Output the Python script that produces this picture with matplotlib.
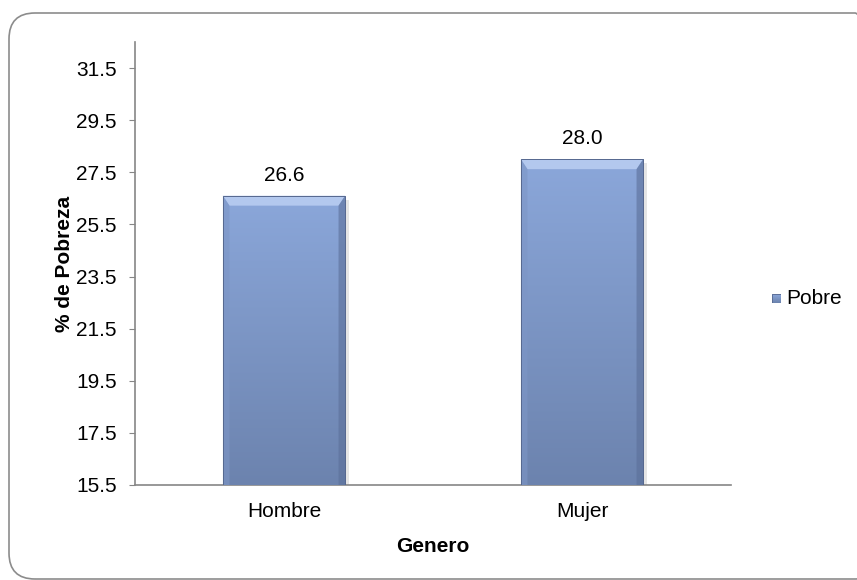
import matplotlib.pyplot as plt
import numpy as np
from matplotlib.patches import FancyBboxPatch, Polygon, Rectangle
from matplotlib.colors import LinearSegmentedColormap

# Datos del grafico
categorias = ["Hombre", "Mujer"]
pobre = [26.6, 28.0]
yticks = [15.5, 17.5, 19.5, 21.5, 23.5, 25.5, 27.5, 29.5, 31.5]

plt.rcParams["font.family"] = ["Liberation Sans", "DejaVu Sans"]
fs = 15

fig = plt.figure(figsize=(8.57, 5.8), dpi=100)

# Marco redondeado alrededor del grafico (en pulgadas)
marco = FancyBboxPatch((0.09, 0.01), 8.72, 5.66,
                       boxstyle="round,pad=0,rounding_size=0.26",
                       transform=fig.dpi_scale_trans, fill=False,
                       edgecolor="#8c8c8c", linewidth=1.2)
fig.patches.append(marco)

ax = fig.add_axes([135 / 857, 95 / 580, 596 / 857, 443 / 580])

x = np.arange(len(categorias))
ancho = 0.41
ymin, ymax = 15.5, 32.5

grad = LinearSegmentedColormap.from_list("azul", ["#6c83ae", "#8ba7da"])

barras = ax.bar(x, [v - ymin for v in pobre], width=ancho, bottom=ymin,
                color="none", edgecolor="none", zorder=3)

for b, v in zip(barras, pobre):
    x0, y0 = b.get_x(), b.get_y()
    w, h = b.get_width(), b.get_height()
    # sombra suave
    ax.add_patch(Rectangle((x0 + 0.008, y0 - 0.15), w + 0.004, h,
                           facecolor="#000000", alpha=0.10, zorder=2,
                           edgecolor="none"))
    # relleno degradado vertical
    img = ax.imshow(np.linspace(0, 1, 256).reshape(-1, 1), cmap=grad,
                    origin="lower", aspect="auto",
                    extent=(x0, x0 + w, y0, y0 + h), zorder=3)
    img.set_clip_path(b)
    # biselado
    bx, by = 0.022, 0.38
    top = y0 + h
    ax.add_patch(Polygon([(x0, top), (x0 + w, top), (x0 + w - bx, top - by),
                          (x0 + bx, top - by)], closed=True,
                         facecolor="#b3c8ee", edgecolor="none", zorder=4))
    ax.add_patch(Polygon([(x0, y0), (x0, top), (x0 + bx, top - by),
                          (x0 + bx, y0)], closed=True,
                         facecolor="#7d96c6", alpha=0.6, edgecolor="none", zorder=4))
    ax.add_patch(Polygon([(x0 + w, y0), (x0 + w, top), (x0 + w - bx, top - by),
                          (x0 + w - bx, y0)], closed=True,
                         facecolor="#5b6f99", alpha=0.6, edgecolor="none", zorder=4))
    ax.add_patch(Rectangle((x0, y0), w, h, facecolor="none",
                           edgecolor="#56688f", linewidth=0.7, zorder=5))
    ax.annotate(f"{v:.1f}", (b.get_x() + w / 2, v), xytext=(0, 8),
                textcoords="offset points", ha="center", va="bottom",
                fontsize=fs, color="black")

ax.set_xlim(-0.5, 1.5)
ax.set_ylim(ymin, ymax)
ax.set_yticks(yticks)
ax.set_yticklabels([f"{t:.1f}" for t in yticks], fontsize=fs)
ax.set_xticks(x)
ax.set_xticklabels(categorias, fontsize=fs)
ax.tick_params(axis="x", length=0, pad=12)
ax.tick_params(axis="y", length=4, color="#868686", pad=9)

for s in ["top", "right"]:
    ax.spines[s].set_visible(False)
for s in ["left", "bottom"]:
    ax.spines[s].set_color("#868686")
    ax.spines[s].set_linewidth(1.2)

ax.set_ylabel("% de Pobreza", fontsize=fs, fontweight="bold", labelpad=2)
ax.set_xlabel("Genero", fontsize=fs, fontweight="bold", labelpad=12)

# Leyenda
lax = fig.add_axes([772 / 857, (580 - 303) / 580, 9 / 857, 9 / 580])
lax.imshow(np.linspace(0, 1, 16).reshape(-1, 1), cmap=grad,
           origin="lower", aspect="auto")
lax.add_patch(Rectangle((-0.5, -0.5), 1, 16, fill=False,
                        edgecolor="#56688f", linewidth=0.6))
lax.set_axis_off()
fig.text(786 / 857, (580 - 298) / 580, "Pobre", fontsize=fs,
         va="center", ha="left")

fig.savefig("out.png", dpi=100)
